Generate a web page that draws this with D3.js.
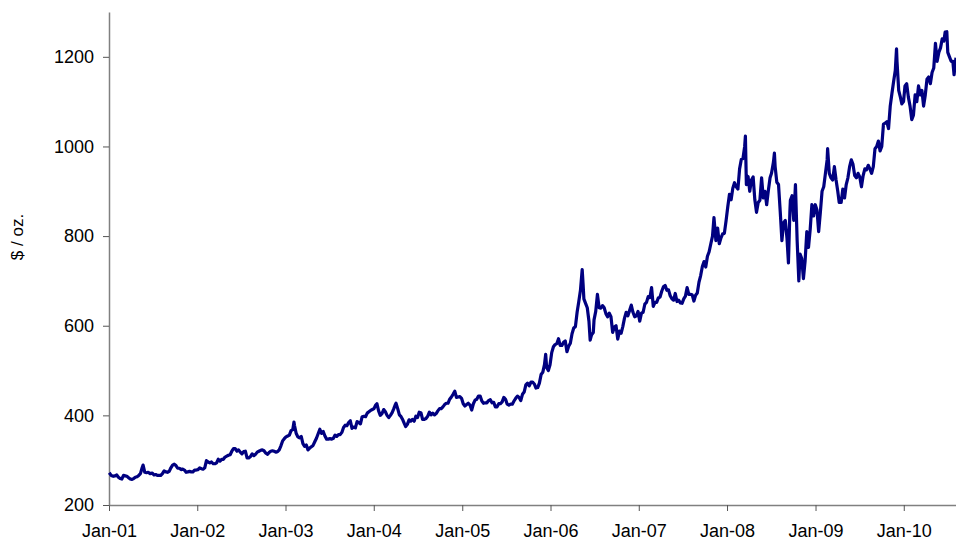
<!DOCTYPE html>
<html><head><meta charset="utf-8">
<script src="https://cdn.jsdelivr.net/npm/d3@7"></script>
<style>body{margin:0;background:#fff}svg{display:block}text{font-family:"Liberation Sans",Arial,sans-serif}</style>
</head><body>
<svg id="c" width="956" height="541"></svg>
<script>
const yTicks = [200, 400, 600, 800, 1000, 1200];
const xTickLabels = ["Jan-01","Jan-02","Jan-03","Jan-04","Jan-05","Jan-06","Jan-07","Jan-08","Jan-09","Jan-10"];
const yLabel = "$ / oz.";
const dates2001 = ["2001-01-02","2001-01-10","2001-01-19","2001-01-26","2001-02-02","2001-02-09","2001-02-16","2001-02-23","2001-03-02","2001-03-09","2001-03-16","2001-03-23","2001-03-30","2001-04-06","2001-04-13","2001-04-20","2001-04-27","2001-05-04","2001-05-11","2001-05-18","2001-05-22","2001-05-29","2001-06-05","2001-06-12","2001-06-20","2001-06-29","2001-07-06","2001-07-13","2001-07-20","2001-07-27","2001-08-03","2001-08-10","2001-08-17","2001-08-24","2001-08-31","2001-09-07","2001-09-14","2001-09-21","2001-09-28","2001-10-05","2001-10-12","2001-10-19","2001-10-26","2001-11-02","2001-11-09","2001-11-16","2001-11-23","2001-11-30","2001-12-07","2001-12-14","2001-12-21","2001-12-28"];
const prices2001 = [272,266,264,265,267,262,259,258,266,265,264,261,258,257,259,262,263,266,270,283,289,273,272,273,270,271,267,268,266,266,266,270,276,274,273,275,283,289,291,288,282,282,279,280,278,273,274,275,274,274,278,278];
const dates2002 = ["2002-01-04","2002-01-11","2002-01-18","2002-01-25","2002-02-01","2002-02-08","2002-02-15","2002-02-22","2002-03-01","2002-03-08","2002-03-15","2002-03-22","2002-03-29","2002-04-05","2002-04-12","2002-04-19","2002-04-26","2002-05-03","2002-05-10","2002-05-17","2002-05-24","2002-05-31","2002-06-07","2002-06-14","2002-06-21","2002-06-28","2002-07-05","2002-07-12","2002-07-19","2002-07-26","2002-08-02","2002-08-09","2002-08-16","2002-08-23","2002-08-30","2002-09-06","2002-09-13","2002-09-20","2002-09-27","2002-10-04","2002-10-11","2002-10-18","2002-10-25","2002-11-01","2002-11-08","2002-11-15","2002-11-22","2002-11-29","2002-12-06","2002-12-13","2002-12-20","2002-12-27"];
const prices2002 = [279,283,281,280,283,299,296,294,296,292,292,294,302,298,302,302,307,309,311,312,320,326,326,320,323,318,314,319,320,305,305,308,314,310,313,318,320,322,323,321,316,313,317,320,321,320,318,319,323,332,343,348];
const dates2003 = ["2003-01-03","2003-01-10","2003-01-17","2003-01-24","2003-01-31","2003-02-05","2003-02-07","2003-02-14","2003-02-21","2003-02-28","2003-03-07","2003-03-14","2003-03-21","2003-03-28","2003-04-04","2003-04-11","2003-04-18","2003-04-25","2003-05-02","2003-05-09","2003-05-16","2003-05-23","2003-05-30","2003-06-06","2003-06-13","2003-06-20","2003-06-27","2003-07-04","2003-07-11","2003-07-18","2003-07-25","2003-08-01","2003-08-08","2003-08-15","2003-08-22","2003-08-29","2003-09-05","2003-09-12","2003-09-19","2003-09-26","2003-10-03","2003-10-10","2003-10-17","2003-10-24","2003-10-31","2003-11-07","2003-11-14","2003-11-21","2003-11-28","2003-12-05","2003-12-12","2003-12-19","2003-12-26"];
const prices2003 = [352,354,356,366,368,385,378,360,352,350,353,337,331,334,323,327,330,333,341,349,359,369,360,364,354,347,347,348,347,349,356,353,357,357,362,373,378,377,384,388,371,374,372,386,384,381,397,398,397,405,408,411,413];
const dates2004 = ["2004-01-02","2004-01-09","2004-01-14","2004-01-21","2004-01-28","2004-02-04","2004-02-11","2004-02-18","2004-02-25","2004-03-03","2004-03-10","2004-03-17","2004-03-24","2004-03-31","2004-04-02","2004-04-09","2004-04-16","2004-04-23","2004-04-30","2004-05-07","2004-05-12","2004-05-19","2004-05-26","2004-06-02","2004-06-09","2004-06-16","2004-06-23","2004-06-30","2004-07-07","2004-07-14","2004-07-21","2004-07-28","2004-08-04","2004-08-11","2004-08-18","2004-08-25","2004-09-01","2004-09-08","2004-09-15","2004-09-22","2004-09-29","2004-10-06","2004-10-13","2004-10-20","2004-10-27","2004-11-03","2004-11-10","2004-11-17","2004-11-24","2004-12-01","2004-12-08","2004-12-15","2004-12-22","2004-12-29"];
const prices2004 = [415,423,426,410,400,404,413,408,400,395,400,406,415,425,427,415,401,397,390,381,375,380,390,387,391,387,398,395,407,406,391,391,393,398,407,401,405,401,404,410,415,415,419,424,427,427,436,441,447,454,440,441,442,438];
const dates2005 = ["2005-01-05","2005-01-12","2005-01-19","2005-01-26","2005-02-02","2005-02-09","2005-02-16","2005-02-23","2005-03-02","2005-03-09","2005-03-16","2005-03-23","2005-03-30","2005-04-06","2005-04-13","2005-04-20","2005-04-27","2005-05-04","2005-05-11","2005-05-18","2005-05-25","2005-06-01","2005-06-08","2005-06-15","2005-06-22","2005-06-29","2005-07-06","2005-07-13","2005-07-20","2005-07-27","2005-08-03","2005-08-10","2005-08-17","2005-08-24","2005-08-31","2005-09-07","2005-09-14","2005-09-21","2005-09-28","2005-10-05","2005-10-12","2005-10-19","2005-10-26","2005-11-02","2005-11-09","2005-11-16","2005-11-23","2005-11-30","2005-12-07","2005-12-12","2005-12-16","2005-12-23","2005-12-30"];
const prices2005 = [426,421,424,427,423,412,426,434,436,443,443,432,427,428,428,433,435,428,429,419,419,426,426,430,440,436,425,423,425,425,432,438,443,440,433,447,452,468,472,466,474,474,470,461,462,472,491,496,513,536,507,500,513];
const dates2006 = ["2006-01-06","2006-01-13","2006-01-20","2006-01-27","2006-02-03","2006-02-10","2006-02-17","2006-02-24","2006-03-03","2006-03-10","2006-03-17","2006-03-24","2006-03-31","2006-04-07","2006-04-14","2006-04-21","2006-04-28","2006-05-05","2006-05-12","2006-05-16","2006-05-19","2006-05-26","2006-06-02","2006-06-09","2006-06-14","2006-06-20","2006-06-27","2006-06-30","2006-07-07","2006-07-14","2006-07-21","2006-07-28","2006-08-04","2006-08-11","2006-08-18","2006-08-25","2006-09-01","2006-09-08","2006-09-15","2006-09-22","2006-09-29","2006-10-06","2006-10-13","2006-10-20","2006-10-27","2006-11-03","2006-11-10","2006-11-17","2006-11-24","2006-12-01","2006-12-08","2006-12-15","2006-12-22","2006-12-29"];
const prices2006 = [540,553,558,560,571,556,556,563,566,542,554,561,582,595,598,630,654,680,725,690,660,650,640,610,568,580,585,613,632,670,640,639,645,640,627,620,628,620,585,597,600,570,588,583,598,617,630,622,634,646,630,620,622,632];
const dates2007 = ["2007-01-05","2007-01-12","2007-01-19","2007-01-26","2007-02-02","2007-02-09","2007-02-16","2007-02-23","2007-03-02","2007-03-09","2007-03-16","2007-03-23","2007-03-30","2007-04-06","2007-04-13","2007-04-20","2007-04-27","2007-05-04","2007-05-11","2007-05-18","2007-05-25","2007-06-01","2007-06-08","2007-06-15","2007-06-22","2007-06-29","2007-07-06","2007-07-13","2007-07-20","2007-07-27","2007-08-03","2007-08-10","2007-08-17","2007-08-24","2007-08-31","2007-09-07","2007-09-14","2007-09-21","2007-09-28","2007-10-05","2007-10-12","2007-10-19","2007-10-26","2007-11-02","2007-11-08","2007-11-16","2007-11-23","2007-11-30","2007-12-07","2007-12-14","2007-12-21","2007-12-28"];
const prices2007 = [610,628,630,648,652,665,663,685,643,652,652,662,664,677,687,690,679,680,667,660,657,672,654,657,651,650,660,666,685,670,670,669,655,668,673,697,712,732,743,731,755,765,783,800,841,790,818,783,796,805,806,834];
const dates2008 = ["2008-01-04","2008-01-11","2008-01-18","2008-01-25","2008-02-01","2008-02-08","2008-02-15","2008-02-22","2008-02-29","2008-03-07","2008-03-14","2008-03-17","2008-03-21","2008-03-28","2008-04-04","2008-04-11","2008-04-18","2008-04-25","2008-05-02","2008-05-09","2008-05-16","2008-05-23","2008-05-30","2008-06-06","2008-06-13","2008-06-20","2008-06-27","2008-07-03","2008-07-11","2008-07-15","2008-07-18","2008-07-25","2008-08-01","2008-08-08","2008-08-15","2008-08-22","2008-08-29","2008-09-05","2008-09-11","2008-09-17","2008-09-19","2008-09-26","2008-10-03","2008-10-10","2008-10-17","2008-10-24","2008-10-29","2008-11-05","2008-11-12","2008-11-19","2008-11-26","2008-12-03","2008-12-10","2008-12-17","2008-12-24","2008-12-31"];
const prices2008 = [865,893,881,907,919,910,905,950,971,973,1000,1023,915,933,900,925,932,881,853,875,880,930,885,900,870,902,930,940,965,985,955,920,915,855,790,830,835,795,740,855,880,890,835,915,790,700,760,750,705,745,810,775,815,870,845,870];
const dates2009 = ["2009-01-07","2009-01-14","2009-01-21","2009-01-28","2009-02-04","2009-02-11","2009-02-18","2009-02-20","2009-02-27","2009-03-06","2009-03-13","2009-03-20","2009-03-27","2009-04-03","2009-04-09","2009-04-17","2009-04-24","2009-05-01","2009-05-08","2009-05-15","2009-05-22","2009-05-29","2009-06-05","2009-06-12","2009-06-19","2009-06-26","2009-07-03","2009-07-10","2009-07-17","2009-07-24","2009-07-31","2009-08-07","2009-08-14","2009-08-21","2009-08-28","2009-09-04","2009-09-11","2009-09-18","2009-09-25","2009-10-02","2009-10-09","2009-10-16","2009-10-23","2009-10-30","2009-11-06","2009-11-13","2009-11-20","2009-11-27","2009-12-02","2009-12-04","2009-12-11","2009-12-18","2009-12-24","2009-12-31"];
const prices2009 = [858,810,853,900,910,940,970,995,940,930,925,955,925,900,875,875,905,885,915,930,955,970,960,935,930,940,932,910,935,950,948,958,950,940,955,995,1000,1012,990,1000,1050,1052,1055,1040,1090,1118,1145,1170,1218,1190,1125,1110,1095,1100];
const dates2010 = ["2010-01-06","2010-01-13","2010-01-20","2010-01-27","2010-02-03","2010-02-10","2010-02-17","2010-02-24","2010-03-03","2010-03-10","2010-03-17","2010-03-24","2010-03-31","2010-04-07","2010-04-14","2010-04-21","2010-04-28","2010-05-05","2010-05-12","2010-05-19","2010-05-26","2010-06-02","2010-06-09","2010-06-16","2010-06-21","2010-06-28","2010-07-02","2010-07-09","2010-07-16","2010-07-23","2010-07-28","2010-08-02","2010-08-05"];
const prices2010 = [1135,1140,1110,1090,1060,1070,1115,1100,1135,1115,1125,1090,1115,1150,1155,1140,1165,1175,1230,1190,1210,1220,1240,1235,1255,1256,1210,1200,1190,1190,1160,1185,1198];

const dates = [].concat(dates2001,dates2002,dates2003,dates2004,dates2005,dates2006,dates2007,dates2008,dates2009,dates2010);
const prices = [].concat(prices2001,prices2002,prices2003,prices2004,prices2005,prices2006,prices2007,prices2008,prices2009,prices2010);

const parse = d3.timeParse("%Y-%m-%d");
const data = dates.map((d,i)=>({date:parse(d), v:prices[i]}));

const svg = d3.select("#c");
const x = d3.scaleTime().domain([parse("2001-01-01"), parse("2010-08-05")]).range([109, 956]);
const y = d3.scaleLinear().domain([200, 1300]).range([505, 12]);

const xTicks = xTickLabels.map((l,i)=>new Date(2001+i,0,1));
const xAxis = d3.axisBottom(x).tickValues(xTicks).tickFormat((d,i)=>xTickLabels[i]).tickSize(6).tickSizeOuter(0);
const gx = svg.append("g").attr("transform","translate(0,505)").call(xAxis);
gx.select(".domain").attr("stroke","#808080").attr("stroke-width",1.5);
gx.selectAll(".tick line").attr("stroke","#555");
gx.selectAll("text").attr("font-size","18px").attr("fill","#000").attr("dy","0").attr("y",32);

const yAxis = d3.axisLeft(y).tickValues(yTicks).tickFormat(d3.format("d")).tickSize(6).tickSizeOuter(0).tickPadding(9);
const gy = svg.append("g").attr("transform","translate(109,0)").call(yAxis);
gy.select(".domain").attr("stroke","#808080").attr("stroke-width",1.5);
gy.selectAll(".tick line").attr("stroke","#555");
gy.selectAll("text").attr("font-size","18px").attr("fill","#000");

svg.append("text").attr("transform","translate(23,237) rotate(-90)").attr("text-anchor","middle")
  .attr("font-size","17px").text(yLabel);

svg.append("path").datum(data).attr("fill","none").attr("stroke","#000080").attr("stroke-width",3.2)
  .attr("stroke-linejoin","round")
  .attr("d", d3.line().x(d=>x(d.date)).y(d=>y(d.v)));
</script>
</body></html>
